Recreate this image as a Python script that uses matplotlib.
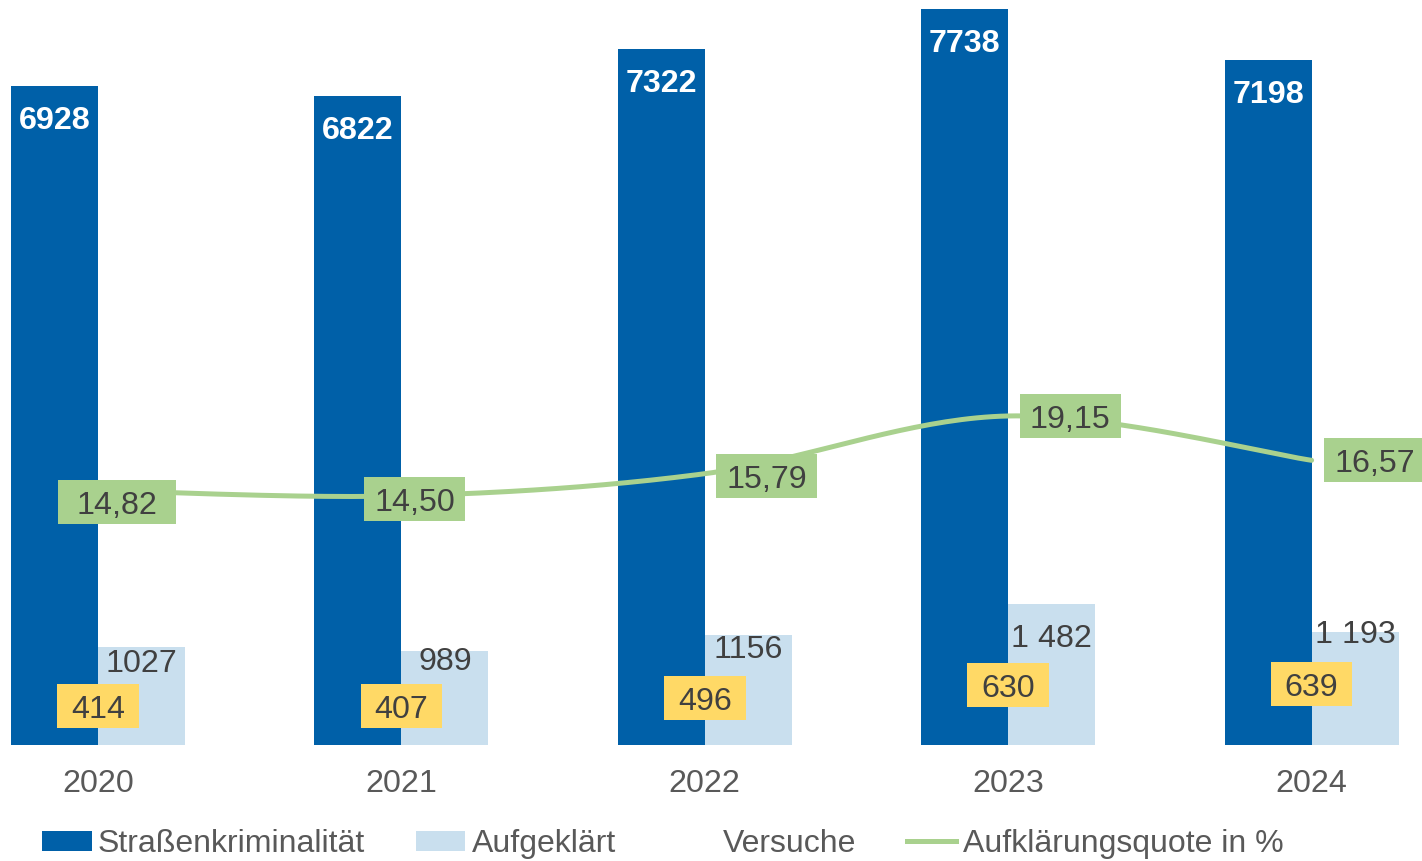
import numpy as np
import matplotlib
matplotlib.use("Agg")
import matplotlib.pyplot as plt
from matplotlib.patches import Patch
from matplotlib.lines import Line2D
from matplotlib.path import Path

plt.rcParams['font.family'] = ['Liberation Sans', 'DejaVu Sans']

# ---- data ----
years = ["2020", "2021", "2022", "2023", "2024"]
strassen = [6928, 6822, 7322, 7738, 7198]
aufgeklaert = [1027, 989, 1156, 1482, 1193]
aufgeklaert_labels = ["1027", "989", "1156", "1 482", "1 193"]
versuche = [414, 407, 496, 630, 639]
quote = [14.82, 14.50, 15.79, 19.15, 16.57]
quote_labels = ["14,82", "14,50", "15,79", "19,15", "16,57"]
series_names = ["Straßenkriminalität", "Aufgeklärt", "Versuche", "Aufklärungsquote in %"]

# ---- styles ----
C_DARK = "#0060A8"
C_LIGHT = "#C9DFEE"
C_GREEN = "#A9D18E"
C_YELLOW = "#FFD966"
C_TEXT = "#404040"
C_TICK = "#595959"
FS = 23.2
VSHIFT = 4  # bbox centre vs visual digit centre (px)

# label offsets in pixels (dx, dy) -- visual centre relative to anchor
light_label_dy = [-13, -7, -11, -31, 1]
quote_label_off = [(19, -12), (13, -3), (62, -2), (62, 0), (63, 0)]
quote_box_padx = [19, 10, 10, 10, 10]


def make_box(padx, pady, shift=VSHIFT):
    def style(x0, y0, width, height, mutation_size):
        xa, xb = x0 - padx, x0 + width + padx
        cy = y0 + height / 2 + shift
        half = height / 2 + pady - 2
        ya, yb = cy - half, cy + half
        verts = [(xa, ya), (xb, ya), (xb, yb), (xa, yb), (xa, ya)]
        return Path(verts, [Path.MOVETO, Path.LINETO, Path.LINETO, Path.LINETO, Path.CLOSEPOLY])
    return style


W, H, DPI = 1422, 861, 100
fig = plt.figure(figsize=(W / DPI, H / DPI), dpi=DPI)
base_px = 745
ax = fig.add_axes([0, (H - base_px) / H, 1, base_px / H])
ax2 = ax.twinx()

x = np.arange(len(years))
spacing = 303.4
w = 87 / spacing

ax.bar(x - w / 2, strassen, width=w, color=C_DARK, zorder=2)
ax.bar(x + w / 2, aufgeklaert, width=w, color=C_LIGHT, zorder=2)

ax.set_xlim(-98 / spacing, (W - 98) / spacing)
ax.set_ylim(0, 7832)
ax2.set_ylim(0, 43.36)

# dark bar labels
for xi, v in zip(x, strassen):
    ax.annotate(str(v), (xi - w / 2, v), xytext=(0, -31 - VSHIFT), textcoords='offset pixels',
                ha='center', va='center', color='white', fontsize=FS, fontweight='bold', zorder=5)

# light bar labels
for xi, v, lab, dy in zip(x, aufgeklaert, aufgeklaert_labels, light_label_dy):
    ax.annotate(lab, (xi + w / 2, v), xytext=(0, dy - VSHIFT), textcoords='offset pixels',
                ha='center', va='center', color=C_TEXT, fontsize=FS, zorder=5)

# Versuche labels (series without visible bars)
for xi, v in zip(x, versuche):
    ax.annotate(str(v), (xi, v), xytext=(0, -VSHIFT), textcoords='offset pixels',
                ha='center', va='center', color=C_TEXT, fontsize=FS, zorder=6,
                bbox=dict(boxstyle=make_box(14, 9), fc=C_YELLOW, ec='none'))


# smoothed line (Bezier, Excel-style)
def smooth(xs, ys, n=40):
    P = np.column_stack([xs, ys]).astype(float)
    out = []
    for i in range(len(P) - 1):
        p0 = P[i - 1] if i > 0 else P[i]
        p1 = P[i]
        p2 = P[i + 1]
        p3 = P[i + 2] if i + 2 < len(P) else P[i + 1]
        c1 = p1 + (p2 - p0) / 6
        c2 = p2 - (p3 - p1) / 6
        t = np.linspace(0, 1, n)[:, None]
        seg = (1 - t) ** 3 * p1 + 3 * (1 - t) ** 2 * t * c1 + 3 * (1 - t) * t ** 2 * c2 + t ** 3 * p2
        out.append(seg if i == 0 else seg[1:])
    S = np.vstack(out)
    return S[:, 0], S[:, 1]


sx, sy = smooth(x, quote)
ax2.plot(sx, sy, color=C_GREEN, lw=3.6, solid_capstyle='round', zorder=3)

for xi, v, lab, (dx, dy), px in zip(x, quote, quote_labels, quote_label_off, quote_box_padx):
    ax2.annotate(lab, (xi, v), xytext=(dx, dy - VSHIFT), textcoords='offset pixels',
                 ha='center', va='center', color=C_TEXT, fontsize=FS, zorder=6,
                 bbox=dict(boxstyle=make_box(px, 9), fc=C_GREEN, ec='none'))

ax.patch.set_visible(False)
ax2.patch.set_visible(False)

for a in (ax, ax2):
    for s in a.spines.values():
        s.set_visible(False)
    a.tick_params(length=0)
ax.set_yticks([])
ax2.set_yticks([])
ax.set_xticks(x)
ax.set_xticklabels(years, fontsize=FS, color=C_TICK)
ax.tick_params(axis='x', pad=17)

handles = [Patch(fc=C_DARK, ec='none'), Patch(fc=C_LIGHT, ec='none'),
           Patch(fc='none', ec='none'), Line2D([], [], color=C_GREEN, lw=3.6)]
fig.legend(handles, series_names, loc='center left', bbox_to_anchor=(42 / W, 1 - 844 / H),
           ncol=4, frameon=False, fontsize=FS - 0.2, handlelength=1.55, handletextpad=0.19,
           columnspacing=1.6, handleheight=0.6, borderpad=0, borderaxespad=0,
           labelcolor=C_TICK)

fig.savefig("out.png", dpi=DPI)
